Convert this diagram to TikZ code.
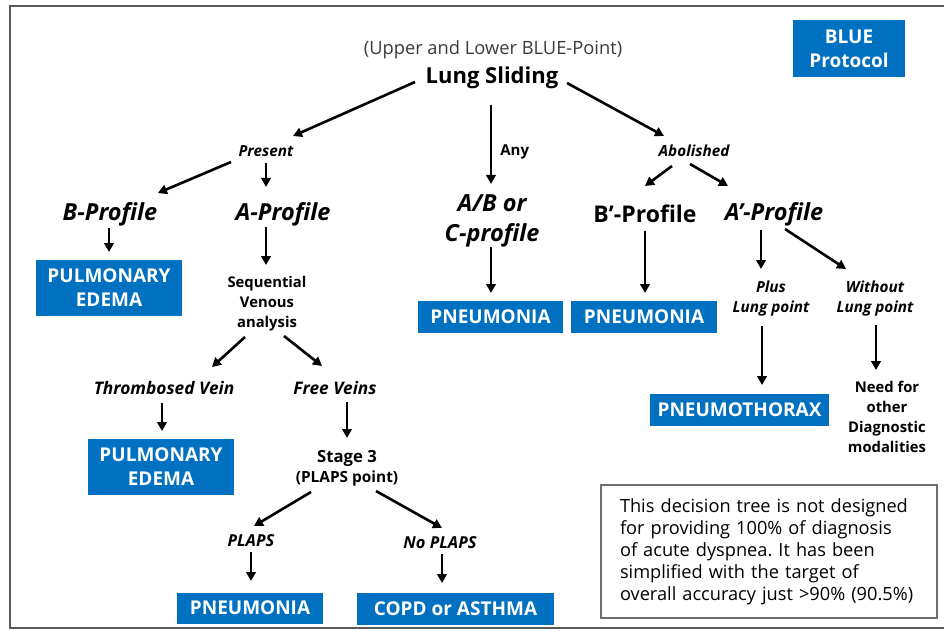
\documentclass[tikz,border=0pt]{standalone}
\usepackage{fontspec}
\setmainfont{Open Sans}
\usetikzlibrary{arrows.meta}
\definecolor{blueP}{HTML}{0070C0}
\definecolor{frameGray}{HTML}{5A5A5A}
\definecolor{noteGray}{HTML}{6E6E6E}
\definecolor{textGray}{HTML}{3A3A3A}
\newcommand{\tikzResultNode}[5]{
  \node[result,minimum width=#3,minimum height=#4] (#1) at (#2) {#5};
}
\frenchspacing

\begin{document}
\begin{tikzpicture}[x=1pt, y=-1pt, inner sep=0pt,
  arr/.style={-{Triangle[length=9pt,width=9.5pt]}, line width=2.6pt},
  result/.style={fill=blueP, text=white, font=\fontsize{19}{24}\selectfont\bfseries, align=center},
  branch/.style={font=\fontsize{15.3}{20}\selectfont\bfseries\itshape, align=center},
  profile/.style={font=\fontsize{23.5}{30}\selectfont\bfseries\itshape, align=center},
  small/.style={font=\fontsize{14.8}{20}\selectfont\bfseries, align=center}]
  \useasboundingbox (0,0) rectangle (944,631);
  \draw[frameGray, line width=2pt] (944,6.5) -- (10,6.5) -- (10,628) -- (944,628);

  \node[font=\fontsize{18.3}{20}\selectfont, text=textGray] (upper) at (493,50) {(Upper and Lower BLUE-Point)};
  \node[font=\fontsize{22}{26}\selectfont\bfseries] (ls) at (492,78) {Lung Sliding};
  \tikzResultNode{protocol}{849,48.5}{112pt}{57pt}{BLUE\\Protocol}

  \node[branch] (present) at (266,151) {Present};
  \node[branch] (abol) at (694,151) {Abolished};
  \node[profile] (bprof) at (110,214) {B-Profile};
  \node[profile] (aprof) at (283,214) {A-Profile};
  \node[profile] (abc) at (492,221) {A/B or\\C-profile};
  \node[profile, font=\fontsize{23}{30}\selectfont\bfseries] (bpprof) at (645,214) {B’-Profile};
  \node[profile] (approf) at (774,214) {A’-Profile};

  \tikzResultNode{pe1}{109,288}{146pt}{56pt}{PULMONARY\\EDEMA}
  \node[small] (seq) at (267,304) {Sequential\\Venous\\analysis};
  \tikzResultNode{pn1}{490.5,317}{145pt}{32pt}{PNEUMONIA}
  \tikzResultNode{pn2}{644,317}{146pt}{32pt}{PNEUMONIA}
  \node[branch] (plus) at (771,299) {Plus\\Lung point};
  \node[branch] (without) at (875,299) {Without\\Lung point};

  \node[branch, font=\fontsize{17.3}{20}\selectfont\bfseries\itshape] (thromb) at (164,388) {Thrombosed Vein};
  \node[branch, font=\fontsize{17.3}{20}\selectfont\bfseries\itshape] (free) at (335,388) {Free Veins};
  \tikzResultNode{pe2}{161,467}{146pt}{56pt}{PULMONARY\\EDEMA}
  \tikzResultNode{ptx}{739.5,410}{179pt}{32pt}{PNEUMOTHORAX}
  \node[small] (need) at (887,417) {Need for\\other\\Diagnostic\\modalities};
  \node[small, font=\fontsize{16.7}{20}\selectfont\bfseries] (stage) at (347,468) {Stage 3\\{\fontsize{15.4}{20}\selectfont(PLAPS point)}};

  \node[branch, font=\fontsize{16.5}{20}\selectfont\bfseries\itshape] (plaps) at (251,541) {PLAPS};
  \node[branch, font=\fontsize{16.5}{20}\selectfont\bfseries\itshape] (noplaps) at (440,543) {No PLAPS};
  \tikzResultNode{pn3}{250,608}{146pt}{31pt}{PNEUMONIA}
  \tikzResultNode{copd}{455.5,609}{197pt}{32pt}{COPD or ASTHMA}

  \node[draw=noteGray, line width=1.3pt, inner xsep=19pt, text width=298pt, minimum height=133pt, align=left,
        font=\fontsize{18.2}{22}\selectfont] (note) at (769,551.5)
    {This decision tree is not designed\\for providing 100\% of diagnosis\\of acute dyspnea. It has been\\simplified with the target of\\overall accuracy just >90\% (90.5\%)};

  \draw[arr] ([shift={(-77,4)}]ls.center) -- ([shift={(27,-15)}]present.center);
  \draw[arr] ([shift={(-1,27)}]ls.center) -- node[pos=0.6, right=8pt, font=\fontsize{15}{20}\selectfont\bfseries] (any) {Any} ([shift={(-1,-37)}]abc.center);
  \draw[arr] ([shift={(75,5)}]ls.center) -- ([shift={(-30,-15)}]abol.center);
  \draw[arr] ([shift={(-35,11)}]present.center) -- ([shift={(48,-21)}]bprof.center);
  \draw[arr] ([shift={(0,12)}]present.center) -- ([shift={(-17,-27)}]aprof.center);
  \draw[arr] ([shift={(-1,14)}]bprof.center) -- ([shift={(0,-36)}]pe1.center);
  \draw[arr] ([shift={(-17,13)}]aprof.center) -- ([shift={(-1,-39)}]seq.center);
  \draw[arr] ([shift={(-22,33)}]seq.center) -- ([shift={(48,-21)}]thromb.center);
  \draw[arr] ([shift={(17,32)}]seq.center) -- ([shift={(-13,-22)}]free.center);
  \draw[arr] ([shift={(-2,15)}]thromb.center) -- ([shift={(1,-36)}]pe2.center);
  \draw[arr] ([shift={(12,14)}]free.center) -- ([shift={(0,-30)}]stage.center);
  \draw[arr] ([shift={(-36,24)}]stage.center) -- ([shift={(3,-15)}]plaps.center);
  \draw[arr] ([shift={(29,23)}]stage.center) -- ([shift={(2,-15)}]noplaps.center);
  \draw[arr] ([shift={(0,11)}]plaps.center) -- ([shift={(1,-27)}]pn3.center);
  \draw[arr] ([shift={(2,11)}]noplaps.center) -- ([shift={(-13.5,-26)}]copd.center);
  \draw[arr] ([shift={(-1,26)}]abc.center) -- ([shift={(0.5,-24)}]pn1.center);
  \draw[arr] ([shift={(-22,15)}]abol.center) -- ([shift={(0,-28)}]bpprof.center);
  \draw[arr] ([shift={(-4,13)}]abol.center) -- ([shift={(-46,-28)}]approf.center);
  \draw[arr] ([shift={(0,17)}]bpprof.center) -- ([shift={(1,-24)}]pn2.center);
  \draw[arr] ([shift={(-13,16)}]approf.center) -- ([shift={(-10,-30)}]plus.center);
  \draw[arr] ([shift={(11,15)}]approf.center) -- ([shift={(-29,-30)}]without.center);
  \draw[arr] ([shift={(-9,27)}]plus.center) -- ([shift={(22.5,-25)}]ptx.center);
  \draw[arr] ([shift={(1,26)}]without.center) -- ([shift={(-11,-47)}]need.center);
\end{tikzpicture}
\end{document}
